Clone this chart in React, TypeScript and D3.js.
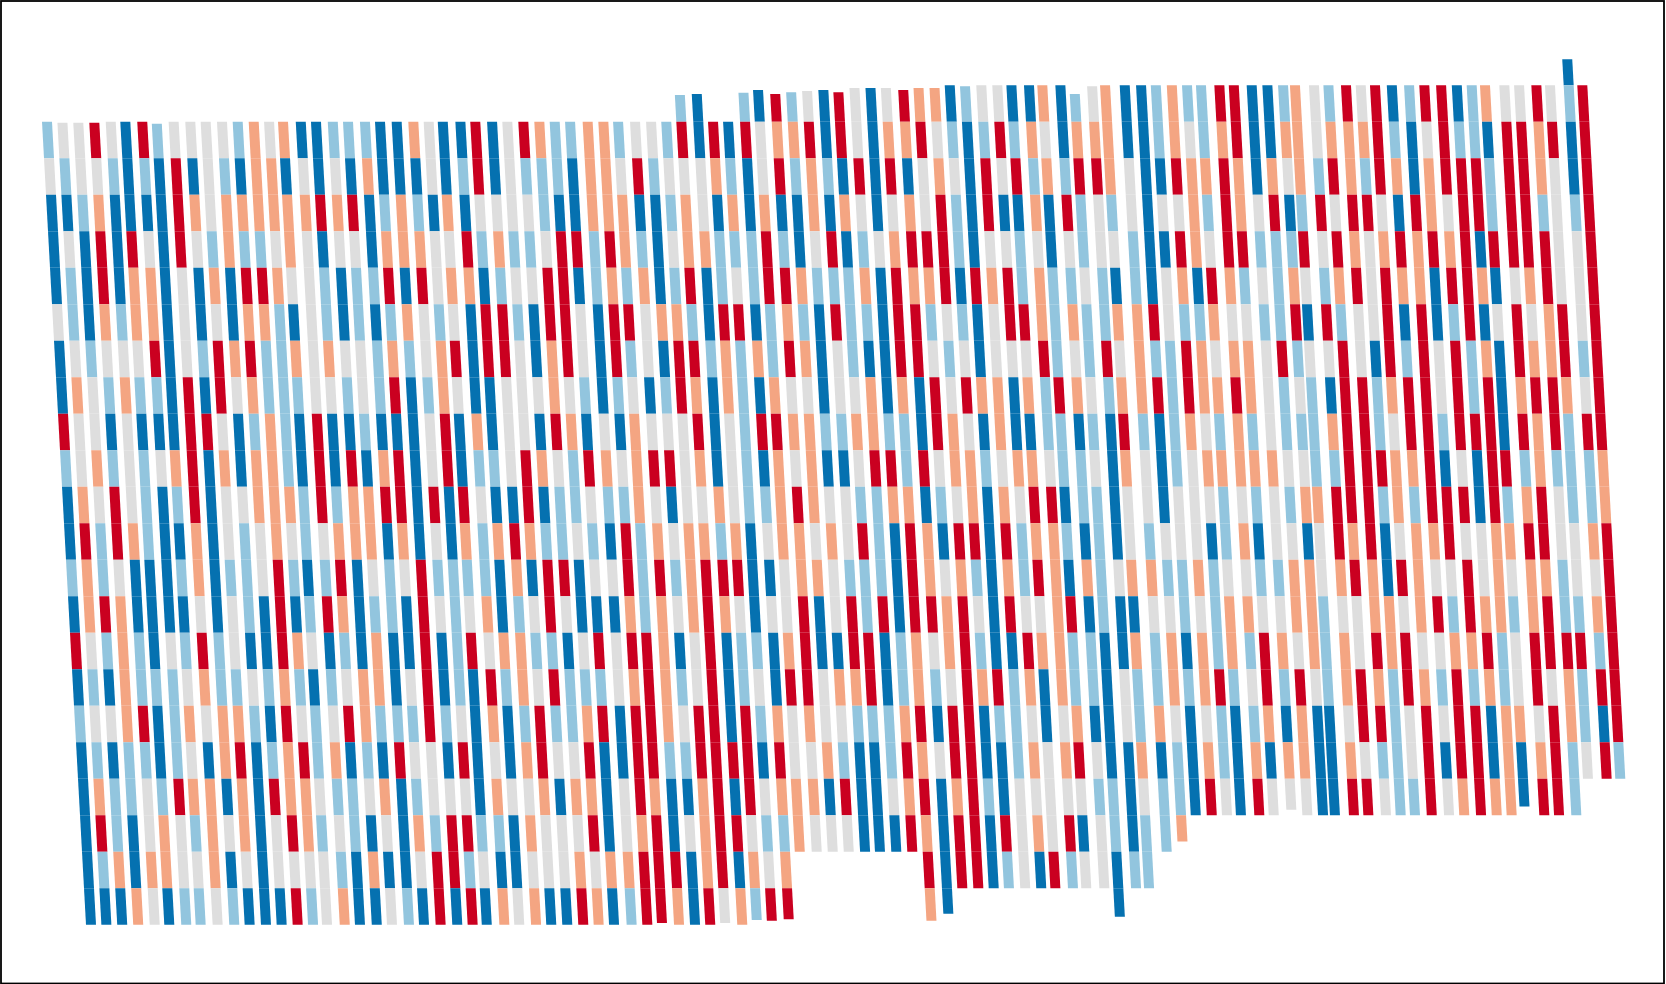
import { useMemo } from 'react'

import { line, scaleLinear, scaleOrdinal } from 'd3'

// left edge of every column on row 1, in column units
const columnPositions = [
  0, 0.97, 1.97, 2.98, 4.02, 4.94, 6.01, 6.92, 7.99, 9.04, 10.01, 11.04, 12.03, 13.04, 14.01, 14.89, 16.01, 16.97,
  18.03, 18.99, 20.06, 21.01, 22.06, 23.11, 24.08, 24.97, 26.08, 27.02, 28.08, 29.04, 30.05, 31.06, 32.03, 33.0, 34.11, 35.1, 36.03, 37.1,
  38.11, 39.07, 40.02, 41.09, 42.02, 42.97, 44.04, 44.97, 46.04, 47.05, 48.06, 49.09, 50.03, 51.06, 52.07, 53.04, 54.13, 55.1, 56.11,
  57.08, 58.04, 59.07, 60.08, 60.97, 62.08, 62.92, 64.06, 64.94, 66.06, 66.88, 68.12, 69.15, 70.08, 71.09, 72.05, 72.93, 74.09, 75.0,
  76.13, 77.12, 78.11, 78.86, 80.06, 80.97, 82.08, 83.01, 83.91, 84.97, 86.06, 87.02, 88.08, 89.07, 90.01, 90.85, 92.07, 93.0, 94.09,
  94.95, 96.13, 96.99,
]

const levels = ['B', 'b', 'g', 'o', 'r']
const levelColors = ['#0571b0', '#92c5de', '#dedede', '#f4a582', '#ca0020']

// rows are listed top to bottom, first entry sits two rows above row 1
const firstRow = -1

// columns 1-18
const rowsA = [
  '', '',
  'bggrgBrbggggbogoBB',
  'gbggbBbBrBgbBooBgB',
  'BBboBBBBrogoooooor',
  'BgBrBrgBrgbobbgogB',
  'BbBrBooBgBoBrroggb',
  'gbBobooBgBgBoobBgb',
  'BgbgggrBgbrorbbogo',
  'BogbobbBrBrgobbbgg',
  'rggBgBBBrrgBbobBrB',
  'bgobgbgorBoBoobBrB',
  'BogrgbBbrBggooobrb',
  'BrbrobBBoBgbgogbgo',
  'bobgBBBboBbbgrbBbr',
  'BoroBBBBgBgbBrBbro',
  'rgbobBgbrbgBBrogBb',
  'BbBobbbgobbgbobBbg',
  'bggorBbogoobBrgbgr',
  'BbBbbBbgBorBborboB',
  'BobbgbrooBoBroogbb',
  'BrbBgogbogoBgrobgb',
  'BboBooggoBgBggggbB',
  'BBBogBbbgbBBBrbgoB',
]

// columns 19-38
const rowsB = [
  '', '',
  'bbbBBogBBrBgrobboobg',
  'gBoBBBgBbrBgbbbBoogr',
  'orBbobBoBggggbBBoooB',
  'ggBoooggrbobbgrrbrob',
  'BbbrBrgooBbggrrBbobo',
  'BbBbogbgBrrbBrrgBrrg',
  'ggbobgorBrrgBorgBrbg',
  'bgbrBbogBBgggogbBbgB',
  'BbBBBgrBoBggBroBgBog',
  'rBorBgrBbbgrogbrogor',
  'oorrBrBrgBBrBbbgbbog',
  'ooBoBgBoborobbgbBrbo',
  'BgbgrbbbbBoBrrBggrbr',
  'BbbBrgbgoBbgrgBBBobo',
  'BoBBrBbrgoobbBgrgrro',
  'ooBgrBbBrbogrbbbgoro',
  'obbbrbgBoBbrbborBrro',
  'bBrggBrBgBorggrBBrrb',
  'goBbgggBoggoBooBgroB',
  'BgBobrrbbBogggrBgorB',
  'oBBgrrbgBBgggogoorrr',
  'BgbBrBrBogoBBroBbrro',
]

// columns 39-57
const rowsC = [
  '',
  '..bB..bBrbgBrgBgroo',
  'gbrBrBrgoorBrgBoorg',
  'bgggobBgrbobBrBrBgo',
  'BbogBoBoBBoBogBgogr',
  'BgoobbbrbBgrBbgorrr',
  'BbrBbgbrrobbboBroor',
  'oobBrrBbobBrbbBrrbg',
  'BrrbobobroBgbBBrrgb',
  'broBobBoggBggoBoBrg',
  'ggrBgbrroobboobbBro',
  'rgoBgbBogoBBgrrbrgo',
  'BggogbboroggbbooBbg',
  'gooboBgoogogrbBroBr',
  'borrrBBgoogbbbBrogo',
  'gorogBggrBgrbrBrror',
  'BgrBbbBorBBrrBbogor',
  'bgrBbgBrrgoorBbobgr',
  'grrBrbogoggbbborBrr',
  'brrrrBrggobBBbrogrr',
  'BorBrgoooBrBBgorBor',
  'gorrgbbogggBBBroBrr',
  'BorBogo........rBrr',
  'Brgobrr........oB..',
]

// columns 58-98
const rowsD = [
  '.......................................B.',
  'BbggBBoBbgoBBbobbrrBBbogbrgrBbrrBboggrgbr',
  'bBbrbogBoooBBbogborBBoogooorbBgrbbBrrorBr',
  'gBrgrbobrrogBBrooroBogobrobroBorrrbrrogBr',
  'bBrBBoBrbgbgBggobrogrBbrgrrgBrogrrbrrbgbr',
  'bBggbgBgbggbBBrogrrbbbrgrogorororBrrrrggr',
  'BrorbobbgbBbBgoBrobgbogborgrooBrroBgorggr',
  'bBgrrobobboorgbboggbbrBrbggrBrBbrBgrgorgr',
  'gBgggrbgbrgobbrogoogrbggrgBrbrgrboBroorbr',
  'rooBobrogboorbroorogbgbBrrborrgrbrBorrogr',
  'gBoBBbbBbBrbBbogbobgbbborrbgrrbrrrBrorbrr',
  'obgoogbbgBogBbgoooooggbbrrroorBgBrrbobbbo',
  'oBogrrBbbBggBgggbgbgboorrrbobrrrBrborgbbo',
  'rBrboobBbBgbgggBboBggBgrorBgoorggoorrggor',
  'bBobroBobgoobbobggbboogoroBroggrgogoobggr',
  'gBrggorBbBBggbgbooggoobggoogorbrooborbbor',
  'bBBroobbBBoboBobobrogobogrorggoorbgrrrrbr',
  'orboBobbBgbboborbgrbrgborobrobrbobgrgobrr',
  'BbbgBgoBBgbogBgbBboBoBBgrrbgrgrrBoogrobBr',
  'BBbogorgBBoBbBobBoBooBBogbbgrBrrBoBorbgrb',
  'bBgggggbbBgbbBrgBrgggBBrrgbbrgorooBrrb',
  'BrgogrBgbBbbo',
  'BbgBrbggBbb',
  '........B',
]

// share of a cell that is drawn where a column starts or stops inside a row
const partialTops: [number, number][] = [
  [2, 0.97], [3, 0.97], [4, 0.97], [8, 0.945],
  [41, 0.73], [42, 0.76], [45, 0.79], [46, 0.87], [47, 0.76], [48, 0.81], [49, 0.84], [50, 0.87], [51, 0.81],
  [52, 0.92], [53, 0.92], [54, 0.92], [55, 0.87], [56, 0.92], [57, 0.92], [59, 0.97], [66, 0.76], [67, 0.97], [97, 0.71],
]
const partialBottoms: [number, number][] = [
  [37, 0.95], [41, 0.95], [43, 0.87], [44, 0.89], [45, 0.85], [54, 0.89], [55, 0.7], [66, 0.78], [70, 0.72], [77, 0.85], [92, 0.76],
]

const width = 1666
const height = 984
const rowHeight = 36.5
const rowOneTop = 121.7
const rowCount = 22
const columnWidth = 10

function columnCode(rowIndex: number, column: number) {
  const a = rowsA[rowIndex].padEnd(18, '.')
  const b = rowsB[rowIndex].padEnd(20, '.')
  const c = rowsC[rowIndex].padEnd(19, '.')
  const d = rowsD[rowIndex].padEnd(41, '.')
  return (a + b + c + d)[column]
}

export default function App() {
  const cells = useMemo(() => {
    const xScale = scaleLinear().domain([0, 96.99]).range([42, 1579.3])
    const yScale = scaleLinear().domain([0, rowCount]).range([rowOneTop, rowOneTop + rowHeight * rowCount])
    const shear = scaleLinear().domain([0, rowCount]).range([0, 44])
    const color = scaleOrdinal<string, string>().domain(levels).range(levelColors)
    const topShare = new Map(partialTops)
    const bottomShare = new Map(partialBottoms)
    const toPath = line()

    const result: { key: string; d: string; fill: string }[] = []
    columnPositions.forEach((position, column) => {
      const codes = rowsD.map((_, rowIndex) => columnCode(rowIndex, column))
      const first = codes.findIndex(code => code !== '.')
      let last = codes.length - 1
      while (codes[last] === '.') last -= 1

      codes.forEach((code, rowIndex) => {
        if (code === '.') return
        const row = rowIndex + firstRow - 1
        const top = rowIndex === first ? row + 1 - (topShare.get(column + 1) ?? 1) : row
        const bottom = rowIndex === last ? row + (bottomShare.get(column + 1) ?? 1) : row + 1
        const left = xScale(position)
        result.push({
          key: `${column}-${rowIndex}`,
          fill: color(code),
          d:
            toPath([
              [left + shear(top), yScale(top)],
              [left + columnWidth + shear(top), yScale(top)],
              [left + columnWidth + shear(bottom), yScale(bottom)],
              [left + shear(bottom), yScale(bottom)],
            ]) + 'Z',
        })
      })
    })
    return result
  }, [])

  return (
    <svg
      width={width}
      height={height}
      viewBox={`0 0 ${width} ${height}`}
      style={{ position: 'fixed', left: 0, top: 0, background: '#fff' }}
    >
      {cells.map(cell => (
        <path key={cell.key} d={cell.d} fill={cell.fill} />
      ))}
      <rect x={1} y={1} width={1663} height={982.5} fill="none" stroke="#000" strokeWidth={1.8} />
    </svg>
  )
}
